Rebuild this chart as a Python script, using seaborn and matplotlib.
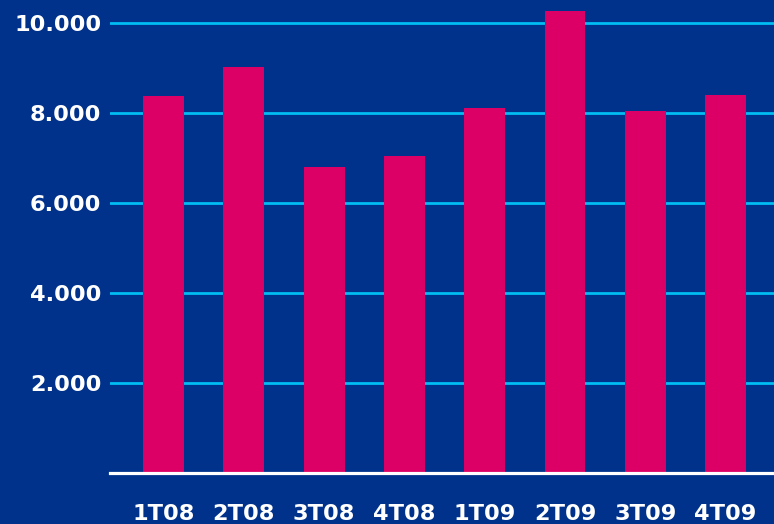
import matplotlib
matplotlib.use("Agg")
import matplotlib.pyplot as plt
import pandas as pd
import seaborn as sns

# Quarterly figures
quarters = ["1T08", "2T08", "3T08", "4T08", "1T09", "2T09", "3T09", "4T09"]
values = [8380, 9020, 6800, 7045, 8110, 10265, 8045, 8400]
y_ticks = [2000, 4000, 6000, 8000, 10000]
y_tick_labels = ["2.000", "4.000", "6.000", "8.000", "10.000"]

BG = "#00318B"
BAR = "#DC0066"
GRID = "#00BDF2"

df = pd.DataFrame({"quarter": quarters, "value": values})

sns.set_theme(style="white")
plt.rcParams["font.family"] = ["DejaVu Sans"]

fig = plt.figure(figsize=(7.74, 5.24), dpi=100, facecolor=BG)
ax = fig.add_axes([110 / 774, 1 - 473 / 524, 1 - 110 / 774, 473 / 524])
ax.set_facecolor(BG)

sns.barplot(data=df, x="quarter", y="value", color=BAR, saturation=1,
            width=0.51, linewidth=0, edgecolor=BAR, ax=ax, zorder=3)

ax.set_ylim(0, 10511)
ax.set_xlim(-0.666, 7.603)
ax.set_yticks(y_ticks)
ax.set_yticklabels(y_tick_labels)
ax.set_xlabel("")
ax.set_ylabel("")

ax.yaxis.grid(True, color=GRID, linewidth=2.0, zorder=1)
ax.xaxis.grid(False)
ax.set_axisbelow(True)

for side in ("top", "right", "left"):
    ax.spines[side].set_visible(False)
ax.spines["bottom"].set_color("white")
ax.spines["bottom"].set_linewidth(2.3)
ax.spines["bottom"].set_zorder(5)

ax.tick_params(axis="y", length=0, pad=6.2, labelsize=16.2, labelcolor="white")
ax.tick_params(axis="x", length=0, pad=22.0, labelsize=16.2, labelcolor="white")
for lbl in ax.get_xticklabels() + ax.get_yticklabels():
    lbl.set_fontweight("bold")

fig.savefig("out.png", dpi=100, facecolor=BG)
